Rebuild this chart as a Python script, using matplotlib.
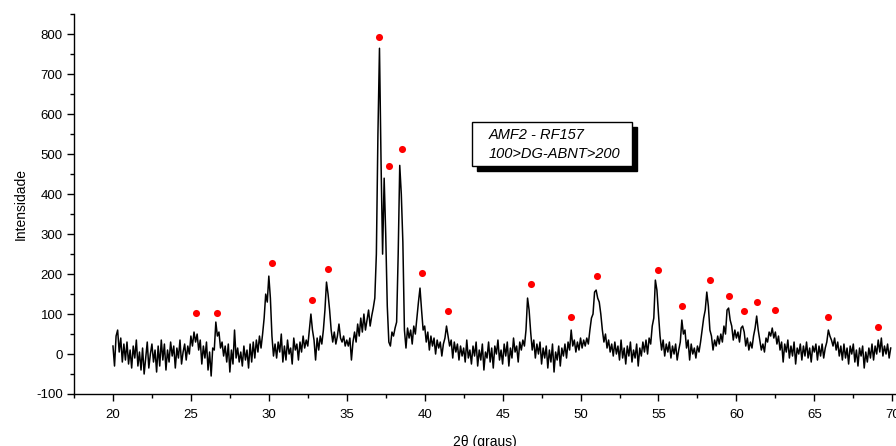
import numpy as np
import matplotlib
matplotlib.use("Agg")
import matplotlib.pyplot as plt
from matplotlib.patches import Rectangle
from matplotlib.ticker import MultipleLocator

plt.rcParams['font.family'] = ['Liberation Sans', 'DejaVu Sans']
plt.rcParams['axes.unicode_minus'] = False

# 2theta start / step of the scan (0.1 deg)
theta_start = 20.0
theta_step = 0.1

intensity_20_25 = [20, -30, 45, 60, 5, 40, -20, 25, -15, 30,
                   -25, 10, -35, 20, -10, 35, -30, 5, -40, 15,
                   -50, -10, 30, -35, 0, 25, -20, 10, -45, 20,
                   -30, 35, -15, 25, -40, 10, -20, 30, -5, 20,
                   -35, 15, -10, 35, -25, 5, 25, -15, 20, 0]
intensity_25_30 = [45, 20, 55, 30, 50, 10, 35, -25, 20, -10,
                   30, -40, 5, -55, 15, 10, 80, 45, 55, 15,
                   30, -5, 20, -20, 25, -45, 10, -25, 60, -10,
                   15, -20, 5, -30, 20, -15, 10, -35, 25, -20,
                   30, -10, 35, 5, 45, 15, 50, 90, 150, 130]
intensity_30_35 = [195, 140, 45, -5, 25, -10, 30, 5, 50, -20,
                   20, -15, 35, 0, 15, -25, 40, 10, 25, -15,
                   30, 5, 45, 15, 35, 20, 60, 100, 60, 35,
                   -15, 40, 10, 45, 25, 60, 110, 180, 150, 110,
                   60, 30, 55, 25, 45, 75, 40, 30, 45, 20]
intensity_35_40 = [35, 20, 40, -15, 30, 55, 30, 75, 45, 90,
                   55, 100, 60, 85, 110, 70, 95, 115, 140, 250,
                   550, 765, 480, 250, 440, 300, 120, 30, 20, 55,
                   45, 65, 80, 250, 472, 400, 280, 60, 15, 65,
                   40, 60, 25, 70, 50, 90, 130, 165, 110, 60]
intensity_40_45 = [70, 30, 55, 10, 45, 20, 40, 0, 35, 15,
                   30, -5, 25, 40, 70, 45, 20, 35, -10, 30,
                   5, 25, -15, 20, -5, 15, -20, 35, -10, 10,
                   -25, 20, -5, 30, -30, 10, -15, 25, -40, 5,
                   -10, 30, -20, 15, -35, 20, 0, 35, -15, 10]
intensity_45_50 = [-25, 25, -5, 30, -30, 15, -10, 40, 5, 20,
                   -20, 30, 10, 35, 20, 60, 140, 110, 55, 10,
                   35, -10, 25, 0, 30, -25, 15, -10, 20, -35,
                   10, -20, 25, -45, 5, -15, 20, -30, 15, -5,
                   25, -10, 30, 10, 60, 20, 35, 5, 30, 10]
intensity_50_55 = [40, 15, 35, 20, 40, 25, 60, 90, 100, 155,
                   160, 140, 130, 100, 60, 30, 50, 15, 35, 5,
                   25, -5, 30, 0, 20, -15, 35, -10, 15, -25,
                   20, -5, 30, -20, 10, -10, 25, -30, 15, -5,
                   30, 5, 35, 0, 40, 25, 70, 90, 185, 160]
intensity_55_60 = [100, 45, 10, 35, -5, 25, 5, 30, -10, 20,
                   0, 25, -15, 10, 30, 85, 50, 60, 15, 35,
                   -15, 25, 0, 15, -10, 20, 5, 30, 60, 90,
                   110, 155, 120, 60, 45, 10, 35, 20, 45, 25,
                   50, 30, 70, 50, 110, 115, 85, 70, 35, 60]
intensity_60_65 = [40, 55, 30, 65, 70, 55, 20, 40, 10, 30,
                   15, 45, 65, 95, 60, 35, 10, 25, 5, 40,
                   30, 55, 45, 65, 40, 55, 25, 45, 10, 30,
                   -20, 25, 5, 35, -10, 20, -5, 30, -25, 15,
                   0, 25, -15, 20, -5, 30, -10, 15, -20, 20]
intensity_65_70 = [5, 25, -15, 20, -5, 25, -10, 15, 30, 60,
                   45, 35, 20, 40, 10, 30, -5, 20, -15, 25,
                   -10, 15, -25, 20, 0, 25, -20, 10, -30, 15,
                   -5, 20, -35, 5, -20, 15, -10, 25, -15, 20,
                   0, 35, 5, 40, -5, 20, 0, 25, -10, 15]

# Marked peaks (red dots)
peak_theta = [25.3, 26.7, 30.2, 32.8, 33.8, 37.1, 37.7, 38.55, 39.85, 41.5,
              46.8, 49.4, 51.05, 55.0, 56.5, 58.3, 59.5, 60.5, 61.3, 62.5,
              65.9, 69.1]
peak_int = [102, 102, 227, 135, 212, 793, 470, 512, 202, 107,
            175, 92, 195, 210, 120, 185, 145, 107, 131, 110,
            92, 67]

xticks = [20, 25, 30, 35, 40, 45, 50, 55, 60, 65, 70]
yticks = [-100, 0, 100, 200, 300, 400, 500, 600, 700, 800]

intensity = np.array(intensity_20_25 + intensity_25_30 + intensity_30_35 +
                     intensity_35_40 + intensity_40_45 + intensity_45_50 +
                     intensity_50_55 + intensity_55_60 + intensity_60_65 +
                     intensity_65_70, dtype=float)
theta = theta_start + theta_step * np.arange(len(intensity))

fig = plt.figure(figsize=(8.96, 4.46), dpi=100)
ax = fig.add_axes([74 / 896, 1 - 394 / 446, 1 - 74 / 896, (394 - 14.3) / 446])

ax.plot(theta, intensity, color='black', lw=1.1)
ax.scatter(peak_theta, peak_int, s=26, color='#ff0000', zorder=3, linewidths=0)

ax.set_xlim(17.5, 70.24)
ax.set_ylim(-100, 850)
ax.set_xticks(xticks)
ax.set_yticks(yticks)
ax.xaxis.set_minor_locator(MultipleLocator(2.5))
ax.yaxis.set_minor_locator(MultipleLocator(50))

for s in ['top', 'right']:
    ax.spines[s].set_visible(False)
for s in ['left', 'bottom']:
    ax.spines[s].set_linewidth(1.0)

ax.tick_params(axis='both', which='major', direction='out', length=5, width=1,
               labelsize=9.5, colors='black')
ax.tick_params(axis='both', which='minor', direction='out', length=3, width=1)
ax.tick_params(axis='x', pad=6)
ax.tick_params(axis='y', pad=3)

ax.set_xlabel('2θ (graus)', fontsize=10, labelpad=10)
ax.set_ylabel('Intensidade', fontsize=10, labelpad=6)

# Legend-like box with shadow (figure coordinates)
bx, by, bw, bh = 472 / 896, 1 - 166 / 446, 160 / 896, 44 / 446
fig.add_artist(Rectangle((bx + 5 / 896, by - 5 / 446), bw, bh, transform=fig.transFigure,
                         facecolor='black', edgecolor='black', zorder=4))
fig.add_artist(Rectangle((bx, by), bw, bh, transform=fig.transFigure,
                         facecolor='white', edgecolor='black', lw=1.0, zorder=5))
fig.text(489 / 896, 1 - 135 / 446, 'AMF2 - RF157', fontsize=10.5, style='italic',
         va='center', ha='left', zorder=6)
fig.text(489 / 896, 1 - 154 / 446, '100>DG-ABNT>200', fontsize=10.5, style='italic',
         va='center', ha='left', zorder=6)

fig.savefig('out.png', dpi=100)
